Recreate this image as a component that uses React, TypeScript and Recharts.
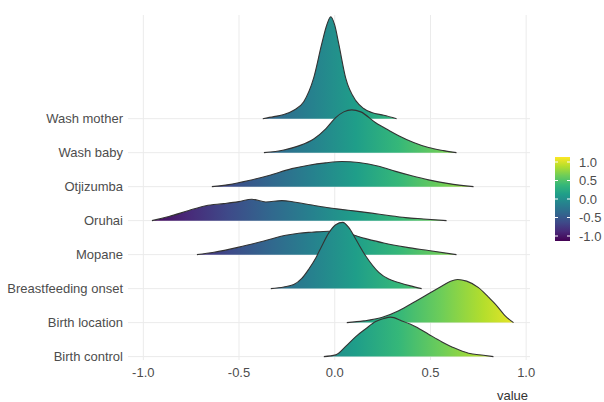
import { ComposedChart, Area, XAxis, YAxis, CartesianGrid } from 'recharts';

// bottom to top, same order as the y axis
const categories = [
  'Birth control',
  'Birth location',
  'Breastfeeding onset',
  'Mopane',
  'Oruhai',
  'Otjizumba',
  'Wash baby',
  'Wash mother',
];

const xTicks = [-1, -0.5, 0, 0.5, 1];
const legendTicks = [1, 0.5, 0, -0.5, -1];

// density ridges as [value, height], height in units of ridge spacing
const washMother = [
  [-0.376, 0], [-0.318, 0.06], [-0.266, 0.12], [-0.214, 0.25], [-0.162, 0.5],
  [-0.11, 1.2], [-0.068, 2.2], [-0.042, 2.75], [-0.021, 3.0], [0.0, 2.75],
  [0.021, 2.2], [0.057, 1.2], [0.11, 0.53], [0.151, 0.3], [0.193, 0.18],
  [0.256, 0.1], [0.323, 0],
];
const washBaby = [
  [-0.37, 0], [-0.266, 0.08], [-0.188, 0.2], [-0.11, 0.4], [-0.047, 0.7],
  [0.005, 1.03], [0.047, 1.2], [0.089, 1.26], [0.136, 1.2], [0.214, 0.88],
  [0.282, 0.66], [0.334, 0.5], [0.412, 0.3], [0.49, 0.15], [0.569, 0.06],
  [0.636, 0],
];
const otjizumba = [
  [-0.642, 0], [-0.553, 0.06], [-0.449, 0.18], [-0.344, 0.33], [-0.224, 0.53],
  [-0.136, 0.63], [-0.047, 0.7], [0.037, 0.74], [0.125, 0.71], [0.23, 0.6],
  [0.318, 0.45], [0.402, 0.32], [0.49, 0.2], [0.595, 0.09], [0.725, 0],
];
const oruhai = [
  [-0.955, 0], [-0.866, 0.12], [-0.762, 0.3], [-0.673, 0.44], [-0.579, 0.5],
  [-0.501, 0.56], [-0.433, 0.63], [-0.36, 0.55], [-0.276, 0.59], [-0.214, 0.55],
  [-0.151, 0.49], [-0.057, 0.4], [0.021, 0.34], [0.11, 0.28], [0.193, 0.22],
  [0.282, 0.15], [0.37, 0.09], [0.464, 0.05], [0.584, 0],
];
const mopane = [
  [-0.72, 0], [-0.631, 0.07], [-0.501, 0.22], [-0.37, 0.4], [-0.256, 0.57],
  [-0.188, 0.63], [-0.12, 0.66], [-0.031, 0.69], [0.047, 0.65], [0.162, 0.47],
  [0.256, 0.34], [0.37, 0.22], [0.49, 0.12], [0.636, 0],
];
const breastfeeding = [
  [-0.334, 0], [-0.266, 0.05], [-0.214, 0.12], [-0.172, 0.3], [-0.136, 0.57],
  [-0.099, 0.9], [-0.068, 1.25], [-0.031, 1.64], [0.005, 1.88], [0.042, 1.95],
  [0.073, 1.8], [0.11, 1.45], [0.162, 0.96], [0.23, 0.48], [0.282, 0.28],
  [0.334, 0.18], [0.396, 0.08], [0.454, 0],
];
const birthLocation = [
  [0.063, 0], [0.151, 0.05], [0.245, 0.15], [0.334, 0.35], [0.423, 0.63],
  [0.49, 0.85], [0.558, 1.07], [0.605, 1.22], [0.642, 1.27], [0.689, 1.22],
  [0.751, 1.03], [0.803, 0.75], [0.84, 0.54], [0.892, 0.19], [0.934, 0],
];
const birthControl = [
  [-0.057, 0], [0.005, 0.05], [0.057, 0.3], [0.11, 0.59], [0.162, 0.82],
  [0.214, 1.03], [0.256, 1.12], [0.292, 1.16], [0.35, 1.05], [0.423, 0.88],
  [0.49, 0.66], [0.558, 0.44], [0.626, 0.25], [0.699, 0.1], [0.777, 0.04],
  [0.829, 0],
];

// drawn top first so lower ridges sit in front
const ridges = [
  { name: 'Wash mother', points: washMother },
  { name: 'Wash baby', points: washBaby },
  { name: 'Otjizumba', points: otjizumba },
  { name: 'Oruhai', points: oruhai },
  { name: 'Mopane', points: mopane },
  { name: 'Breastfeeding onset', points: breastfeeding },
  { name: 'Birth location', points: birthLocation },
  { name: 'Birth control', points: birthControl },
];

const viridis = [
  '#440154', '#482878', '#3E4A89', '#31688E', '#26828E',
  '#1F9E89', '#35B779', '#6DCD59', '#B4DE2C', '#FDE725',
];

const FONT = '"Liberation Sans", Arial, sans-serif';
const tickStyle = { fontSize: 13, fill: '#4d4d4d', fontFamily: FONT };

function ViridisStops() {
  return (
    <>
      {viridis.map((c, i) => (
        <stop key={c} offset={`${(i / (viridis.length - 1)) * 100}%`} stopColor={c} />
      ))}
    </>
  );
}

function ColorBar() {
  const top = 157;
  const height = 84;
  const left = 555;
  const width = 15;
  // value -> pixel inside the bar (1.0 near the top, -1.0 near the bottom)
  const pos = (v: number) => top + 5 + ((1 - v) / 2) * (height - 10);
  return (
    <svg
      width={604}
      height={402}
      style={{ position: 'absolute', left: 0, top: 0, pointerEvents: 'none' }}
    >
      <defs>
        <linearGradient id="legend-grad" x1="0" y1="1" x2="0" y2="0">
          <ViridisStops />
        </linearGradient>
      </defs>
      <rect x={left} y={top} width={width} height={height} fill="url(#legend-grad)" />
      {legendTicks.map((t) => (
        <g key={t}>
          <line x1={left} x2={left + 3} y1={pos(t)} y2={pos(t)} stroke="#fff" strokeWidth={1} />
          <line x1={left + width - 3} x2={left + width} y1={pos(t)} y2={pos(t)} stroke="#fff" strokeWidth={1} />
          <text
            x={left + width + 9}
            y={pos(t)}
            dy="0.35em"
            fontSize={13}
            fill="#4d4d4d"
            fontFamily={FONT}
          >
            {t.toFixed(1)}
          </text>
        </g>
      ))}
    </svg>
  );
}

export default function App() {
  return (
    <div
      style={{
        position: 'absolute',
        left: 0,
        top: 0,
        width: 604,
        height: 402,
        background: '#fff',
        fontFamily: FONT,
      }}
    >
      <ComposedChart
        width={604}
        height={402}
        margin={{ top: 15, right: 74, bottom: 0, left: 0 }}
      >
        <defs>
          {ridges.map((r, i) => {
            const a = r.points[0][0];
            const b = r.points[r.points.length - 1][0];
            return (
              <linearGradient
                key={r.name}
                id={`ridge-${i}`}
                x1={(-1 - a) / (b - a)}
                x2={(1 - a) / (b - a)}
                y1={0}
                y2={0}
              >
                <ViridisStops />
              </linearGradient>
            );
          })}
        </defs>

        <CartesianGrid stroke="#ebebeb" strokeWidth={1} syncWithTicks />

        <XAxis
          type="number"
          dataKey="x"
          domain={[-1.08, 1.02]}
          ticks={xTicks}
          allowDataOverflow
          tickFormatter={(v: number) => v.toFixed(1)}
          tick={tickStyle}
          tickLine={false}
          axisLine={false}
          height={42}
          label={{
            value: 'value',
            position: 'insideBottomRight',
            offset: 2,
            style: { fontSize: 13, fill: '#333', fontFamily: FONT },
          }}
        />

        <YAxis
          type="number"
          domain={[-0.1, 10.05]}
          ticks={categories.map((_, i) => i)}
          allowDataOverflow
          tickFormatter={(v: number) => categories[v] ?? ''}
          tick={tickStyle}
          tickLine={false}
          tickSize={3}
          tickMargin={2}
          axisLine={false}
          width={128}
        />

        {ridges.map((r, i) => {
          const base = categories.indexOf(r.name);
          return (
            <Area
              key={r.name}
              data={r.points.map(([x, h]) => ({ x, y: base + h }))}
              dataKey="y"
              baseValue={base}
              type="monotone"
              fill={`url(#ridge-${i})`}
              fillOpacity={1}
              stroke="#333"
              strokeWidth={1.1}
              dot={false}
              activeDot={false}
              isAnimationActive={false}
            />
          );
        })}
      </ComposedChart>
      <ColorBar />
    </div>
  );
}
